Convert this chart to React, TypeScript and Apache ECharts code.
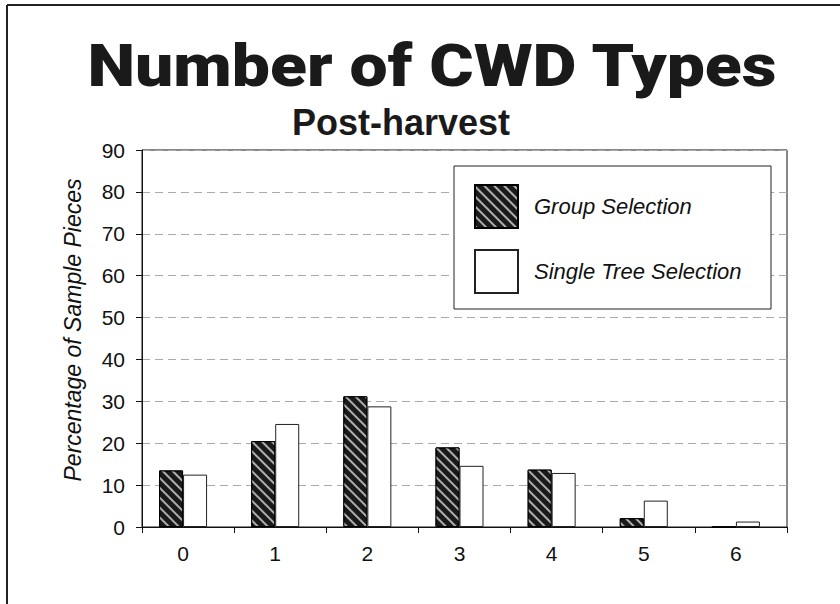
import React, { useEffect, useRef } from 'react';
import * as echarts from 'echarts';

const categories = ['0', '1', '2', '3', '4', '5', '6'];
const groupSelection = [13.5, 20.5, 31.2, 19.0, 13.7, 2.1, 0];
const singleTreeSelection = [12.5, 24.6, 28.8, 14.6, 12.9, 6.3, 1.3];
const seriesNames = ['Group Selection', 'Single Tree Selection'];
const mainTitle = 'Number of CWD Types';
const subTitle = 'Post-harvest';
const yAxisName = 'Percentage of Sample Pieces';

const FONT = '"Liberation Sans", Arial, sans-serif';

export default function App() {
  const ref = useRef<HTMLDivElement>(null);
  useEffect(() => {
    if (!ref.current) return;
    const chart = echarts.init(ref.current, undefined, { renderer: 'svg' });
    const option: any = {
      animation: false,
      backgroundColor: '#ffffff',
      textStyle: { fontFamily: FONT },
      graphic: [
        { type: 'line', shape: { x1: 7, y1: 5, x2: 840, y2: 5 }, style: { stroke: '#222', lineWidth: 2 }, z: 1 },
        { type: 'line', shape: { x1: 7, y1: 5, x2: 7, y2: 604 }, style: { stroke: '#222', lineWidth: 2 }, z: 1 },
        {
          type: 'text', x: 432, y: 66, scaleX: 1.15,
          style: { text: mainTitle, fontFamily: 'Roboto, "Liberation Sans", sans-serif', fontWeight: 900, fontSize: 59, fill: '#1a1a1a', textAlign: 'center', textVerticalAlign: 'middle' },
          z: 1,
        },
        {
          type: 'text', x: 401, y: 122,
          style: { text: subTitle, fontFamily: FONT, fontWeight: 'bold', fontSize: 36, fill: '#1a1a1a', textAlign: 'center', textVerticalAlign: 'middle' },
          z: 1,
        },
        {
          type: 'text', x: 73, y: 330, rotation: Math.PI / 2,
          style: { text: yAxisName, fontFamily: FONT, fontStyle: 'italic', fontSize: 23, fill: '#111', textAlign: 'center', textVerticalAlign: 'middle' },
          z: 1,
        },
        {
          type: 'rect', shape: { x: 454, y: 166, width: 317, height: 143 },
          style: { fill: '#ffffff', stroke: '#222', lineWidth: 1 }, z: 5,
        },
      ],
      legend: {
        data: seriesNames,
        orient: 'vertical',
        left: 474,
        top: 184,
        itemWidth: 43,
        itemHeight: 43,
        itemGap: 20,
        padding: 0,
        icon: 'rect',
        z: 10,
        textStyle: { fontSize: 22, fontStyle: 'italic', color: '#111', fontFamily: FONT, padding: [0, 0, 0, 11] },
      },
      grid: [
        { left: 142, right: 53, top: 150, bottom: 77, show: true, borderColor: '#111', borderWidth: 1 },
        { left: 137, right: 58, top: 150, bottom: 77 },
      ],
      xAxis: [
        {
          type: 'category', gridIndex: 0, data: categories,
          axisLine: { lineStyle: { color: '#111', width: 1 } },
          axisTick: { show: true, length: 6, lineStyle: { color: '#111' } },
          axisLabel: { show: false },
          splitLine: { show: false },
        },
        {
          type: 'category', gridIndex: 1, data: categories,
          axisLine: { show: false }, axisTick: { show: false },
          axisLabel: { fontSize: 21, color: '#111', margin: 16, fontFamily: FONT },
        },
      ],
      yAxis: [
        {
          type: 'value', gridIndex: 0, min: 0, max: 90, interval: 10,
          axisLine: { show: true, lineStyle: { color: '#111', width: 1 } },
          axisTick: { show: true, length: 6, lineStyle: { color: '#111' } },
          axisLabel: { fontSize: 21, color: '#111', margin: 17, fontFamily: FONT },
          splitLine: { show: true, lineStyle: { type: [8, 5], color: '#aaaaaa', width: 1 } },
        },
        { type: 'value', gridIndex: 1, min: 0, max: 90, interval: 10, show: false, splitLine: { show: false } },
      ],
      series: [
        {
          name: seriesNames[0], type: 'bar', xAxisIndex: 1, yAxisIndex: 1,
          data: groupSelection, barWidth: 24, barGap: '0%',
          itemStyle: {
            color: '#1a1a1a', borderColor: '#000', borderWidth: 1,
            decal: { symbol: 'rect', symbolSize: 1, dashArrayX: [1, 0], dashArrayY: [2, 5], rotation: Math.PI / 4, color: 'rgba(200,200,200,0.85)' },
          },
        },
        {
          name: seriesNames[1], type: 'bar', xAxisIndex: 1, yAxisIndex: 1,
          data: singleTreeSelection, barWidth: 24, barGap: '0%',
          itemStyle: { color: '#ffffff', borderColor: '#222', borderWidth: 1 },
        },
      ],
    };
    chart.setOption(option);
    return () => chart.dispose();
  }, []);
  return <div ref={ref} style={{ position: 'fixed', left: 0, top: 0, width: 840, height: 604 }} />;
}
